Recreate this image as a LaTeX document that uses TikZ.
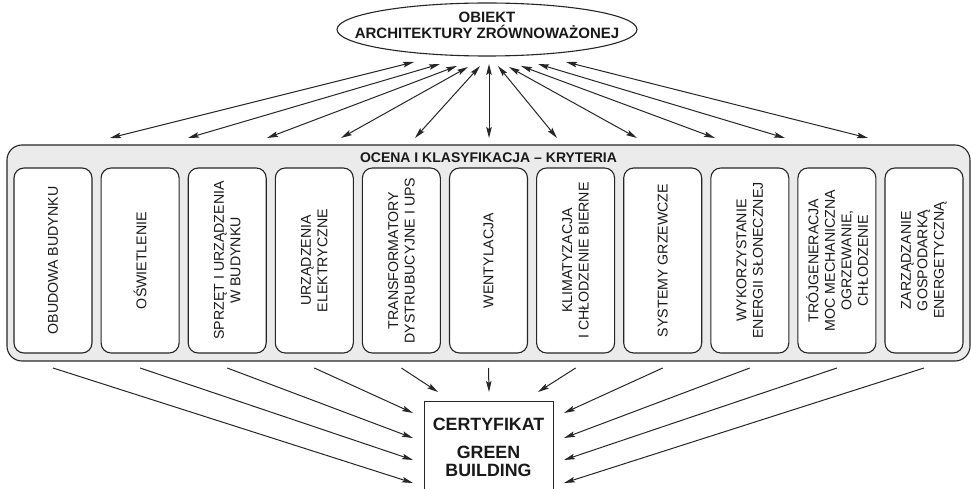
\documentclass[tikz,border=0pt]{standalone}
\usepackage{fontspec}
\setmainfont{Liberation Sans}
\usetikzlibrary{arrows.meta,shapes.geometric}

\begin{document}
\begin{tikzpicture}[x=1pt,y=-1pt,
  ink/.style={draw=black!85, line width=1.1pt},
  panelbox/.style={ink, fill=black!8, rounded corners=15pt, minimum width=963pt, minimum height=216pt, inner sep=0pt},
  crit/.style={ink, fill=white, rounded corners=10pt, minimum width=78pt, minimum height=185pt, inner sep=0pt},
  crittext/.style={rotate=90, align=center, inner sep=0pt, font=\fontsize{14.2}{16.5}\selectfont, text=black!90},
  head/.style={font=\bfseries\fontsize{15}{16}\selectfont, align=center, inner sep=0pt, text=black!90},
  certfont/.style={font=\bfseries\fontsize{17.8}{18}\selectfont},
  tip/.tip={Stealth[length=11pt,width=5.5pt,inset=2pt]},
  link/.style={draw=black!85, line width=1pt, tip-tip},
  feed/.style={draw=black!85, line width=1pt, -tip},
]
\useasboundingbox (0,0) rectangle (971,489);
\clip (0,0) rectangle (971,489);

% top object
\node[ellipse, ink, fill=white, minimum width=300pt, minimum height=53pt, inner sep=0pt] (obj) at (487,29.5) {};
\node[head] (objtext) at (487,25) {OBIEKT\\ARCHITEKTURY ZRÓWNOWAŻONEJ};

% criteria panel
\node[panelbox] (panel) at (488.5,253) {};
\node[font=\bfseries\fontsize{14}{14}\selectfont, text=black!90, inner sep=0pt] (title) at (488.5,157.5) {OCENA I KLASYFIKACJA – KRYTERIA};

\foreach \i/\t in {
  1/{OBUDOWA BUDYNKU},
  2/{OŚWIETLENIE},
  3/{SPRZĘT I URZĄDZENIA\\W BUDYNKU},
  4/{URZĄDZENIA\\ELEKTRYCZNE},
  5/{TRANSFORMATORY\\DYSTRUBUCYJNE I UPS},
  6/{WENTYLACJA},
  7/{KLIMATYZACJA\\I CHŁODZENIE BIERNE},
  8/{SYSTEMY GRZEWCZE},
  9/{WYKORZYSTANIE\\ENERGII SŁONECZNEJ},
  10/{TRÓJGENERACJA\\MOC MECHANICZNA\\OGRZEWANIE,\\CHŁODZENIE},
  11/{ZARZĄDZANIE\\GOSPODARKĄ\\ENERGETYCZNĄ}} {
  \node[crit] (k\i) at ({53+87.1*(\i-1)},260.5) {};
  \node[crittext] (kt\i) at (k\i) {\t};
}

% certificate
\node[ink, fill=white, minimum width=129pt, minimum height=100pt, inner sep=0pt, anchor=north west] (cert) at (424,401) {};
\node[head, certfont] (certa) at (488.5,424) {CERTYFIKAT};
\node[head, certfont] (certb) at (488.5,461) {GREEN\\BUILDING};

% links between the object and the criteria
\foreach \i/\ux/\uy/\lx in {
  1/414/62/110, 2/440/64/188, 3/457/66/267, 4/468/67/341, 5/480/66/415,
  6/489/64/489,
  7/498/66/557, 8/509/67/637, 9/521/66/715, 10/538/64/785, 11/566/62/868} {
  \coordinate (up\i) at (\ux,\uy);
  \coordinate (lo\i) at (\lx,138);
  \draw[link] (up\i) -- (lo\i);
}

% feeds from the criteria into the certificate
\foreach \i/\ex/\ey in {
  1/413/483, 2/413/460, 3/413/438, 4/413/413, 5/438/392, 6/489/392,
  7/538/392, 8/564/413, 9/564/438, 10/564/460, 11/564/483} {
  \coordinate (fs\i) at ({53+87.1*(\i-1)},368);
  \coordinate (fe\i) at (\ex,\ey);
  \draw[feed] (fs\i) -- (fe\i);
}
\end{tikzpicture}
\end{document}
